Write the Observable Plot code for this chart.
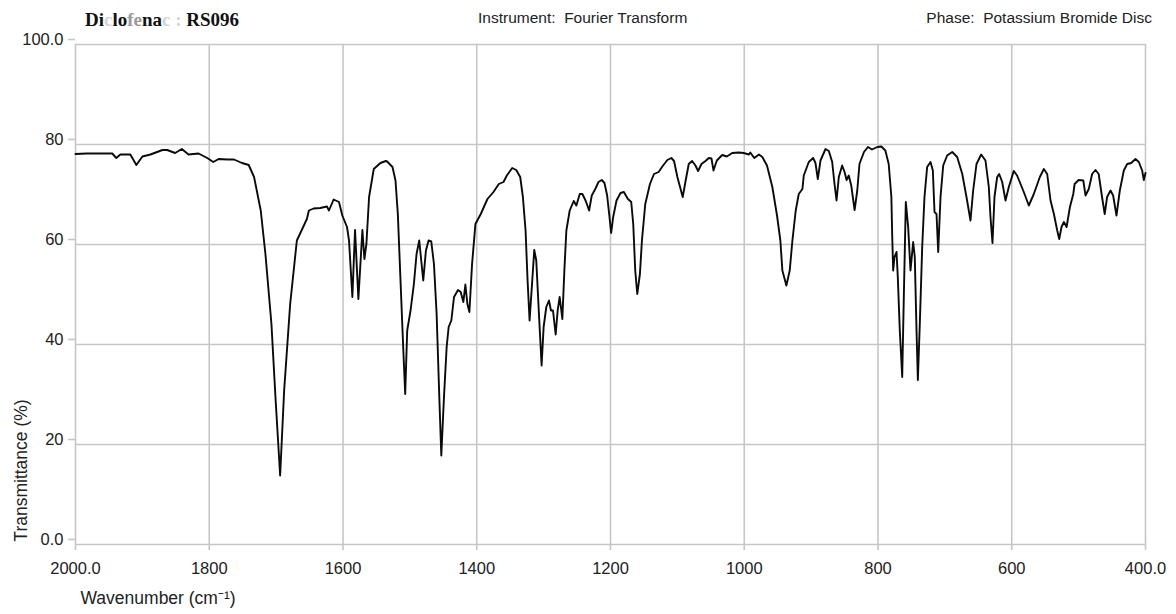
<!DOCTYPE html>
<html>
<head>
<meta charset="utf-8">
<script src="https://cdn.jsdelivr.net/npm/d3@7"></script>
<script src="https://cdn.jsdelivr.net/npm/@observablehq/plot@0.6"></script>
<style>
  html, body { margin: 0; padding: 0; background: #fff; }
  #header { display: block; }
  #chart svg { display: block; }
</style>
</head>
<body>
<svg id="header" width="1176" height="30" xmlns="http://www.w3.org/2000/svg">
  <text x="85" y="26" font-family="Liberation Serif, Times New Roman, serif" font-weight="bold" font-size="19" fill="#111">Di<tspan fill="#d4d4d4">c</tspan>lo<tspan fill="#9a9a9a">fe</tspan>na<tspan fill="#d4d4d4">c :</tspan> RS096</text>
  <text x="478" y="23" font-family="Liberation Sans, Arial, sans-serif" font-size="15.5" fill="#222" xml:space="preserve">Instrument:  Fourier Transform</text>
  <text x="1152" y="23" text-anchor="end" font-family="Liberation Sans, Arial, sans-serif" font-size="15.5" fill="#222" xml:space="preserve">Phase:  Potassium Bromide Disc</text>
</svg>
<div id="chart"></div>
<script>
// Wavenumber (cm-1) and transmittance (%)
const wavenumber = [
  2000, 1983, 1945, 1939, 1933, 1918, 1909, 1900, 1888, 1870, 1863, 1851, 1841, 1831, 1816,
  1803, 1794, 1786, 1773, 1763, 1751, 1741, 1733, 1723, 1716, 1707, 1701, 1694, 1688, 1679,
  1669, 1654, 1651, 1644, 1634, 1624, 1621, 1614, 1606, 1601, 1594, 1591, 1586, 1582, 1577,
  1571, 1568, 1565, 1561, 1554, 1544, 1536, 1534, 1526, 1521.5, 1518, 1514, 1510, 1507, 1504,
  1499, 1494, 1490, 1486, 1483, 1480, 1476, 1472, 1468, 1464, 1460, 1456, 1453, 1449, 1445,
  1442, 1438, 1434, 1428, 1424, 1420, 1417, 1414, 1411, 1407, 1402, 1394, 1384, 1375, 1367,
  1360, 1355, 1347, 1341, 1335, 1331, 1327, 1324, 1321, 1317, 1314, 1311, 1307, 1303, 1300,
  1296, 1292, 1289, 1286, 1282, 1279, 1276, 1272, 1269, 1266, 1261, 1255, 1251, 1246, 1242,
  1237, 1232, 1228, 1222, 1218, 1213, 1209, 1205, 1202, 1199, 1196, 1191, 1185, 1180, 1174,
  1169, 1166, 1163, 1160, 1156, 1153, 1148, 1141, 1135, 1128, 1123, 1115, 1109, 1105, 1100,
  1096, 1092, 1088, 1083, 1078, 1073, 1069, 1064, 1058, 1053, 1049, 1046, 1041, 1033, 1026,
  1018, 1008, 1001, 993, 991, 985, 978, 973, 966, 958, 951, 946, 943, 937, 932,
  928, 923, 918.5, 913, 911, 903.5, 897, 893.5, 890, 886, 878.5, 873.5, 868.5, 865, 862,
  858.6, 853.6, 850, 847, 843.7, 840, 835, 831, 827.7, 821, 815, 809, 801, 795, 789,
  784, 780, 778.7, 777.3, 775.3, 772.3, 770.4, 767.4, 763.8, 761.4, 758.4, 754.9, 751.4, 747.4, 745,
  742.4, 740.4, 737.5, 733.9, 730.5, 726.5, 721.5, 718, 715.5, 712.5, 710, 706.5, 702.5, 696.6, 689,
  681.6, 674, 667.7, 661.7, 657.7, 652.7, 645.7, 639.3, 634.3, 631.8, 628.8, 625.8, 621.8, 618.8, 614.3,
  609.3, 604.4, 597, 592, 582, 574.5, 567, 558, 552, 547, 542, 537, 532, 529, 525.6,
  522, 518, 513, 508, 506, 500, 493, 489.7, 484.8, 479.8, 474.8, 470, 465, 461, 457.4,
  452.3, 448.4, 443.4, 438.4, 432.4, 427.4, 421.4, 415, 410, 405, 402.5, 400
];
const transmittance = [
  78.1, 78.2, 78.2, 77.3, 78.0, 78.0, 75.9, 77.6, 78.0, 78.9, 78.9, 78.3, 79.1, 78.0, 78.2,
  77.3, 76.5, 77.1, 77.0, 77.0, 76.3, 75.9, 73.5, 66.8, 58.1, 44.1, 29.5, 13.8, 30.8, 48.1,
  60.8, 65.1, 66.8, 67.2, 67.3, 67.6, 66.8, 69.0, 68.5, 65.8, 63.5, 60.8, 49.5, 62.9, 49.1,
  62.9, 57.1, 60.1, 69.5, 75.1, 76.3, 76.7, 76.6, 75.5, 72.8, 66.1, 52.8, 39.5, 30.1, 42.8,
  46.8, 52.1, 58.1, 60.8, 56.8, 52.8, 58.8, 60.8, 60.6, 56.1, 46.1, 29.5, 17.8, 29.5, 39.5,
  43.5, 44.8, 49.5, 50.9, 50.5, 48.5, 52.0, 48.1, 46.5, 56.1, 64.1, 66.1, 69.1, 70.5, 72.1,
  72.5, 73.8, 75.3, 74.9, 73.5, 69.5, 62.8, 52.8, 44.8, 52.8, 58.9, 56.8, 46.1, 35.8, 43.5,
  47.5, 48.8, 46.8, 46.8, 42.0, 46.8, 49.5, 45.1, 54.8, 62.8, 66.8, 68.7, 67.8, 70.1, 70.1,
  68.7, 66.8, 69.8, 71.3, 72.5, 72.9, 72.3, 69.8, 66.1, 62.3, 65.5, 68.8, 70.3, 70.5, 69.1,
  68.5, 64.1, 54.8, 50.1, 54.1, 60.8, 68.1, 72.1, 74.1, 74.5, 75.5, 76.9, 77.3, 76.7, 73.5,
  71.5, 69.5, 72.5, 76.1, 76.7, 75.8, 74.7, 76.1, 76.7, 77.3, 77.2, 74.8, 76.8, 77.9, 77.6,
  78.3, 78.4, 78.3, 78.0, 78.4, 77.3, 78.0, 77.5, 75.8, 71.5, 65.8, 60.8, 54.8, 51.8, 54.8,
  60.8, 66.8, 70.1, 71.1, 73.8, 76.5, 77.3, 76.3, 73.1, 76.8, 79.1, 78.7, 76.5, 72.1, 68.8,
  73.5, 75.8, 74.5, 72.9, 73.8, 71.8, 66.9, 70.8, 76.1, 78.5, 79.5, 79.0, 79.5, 79.6, 78.8,
  76.1, 69.5, 61.5, 54.8, 57.5, 58.5, 53.5, 42.8, 33.5, 49.5, 68.5, 63.5, 54.8, 60.5, 57.5,
  42.8, 32.9, 44.1, 59.5, 69.5, 75.5, 76.5, 74.8, 66.5, 66.1, 58.5, 69.5, 75.8, 77.8, 78.5,
  77.5, 74.1, 69.5, 64.8, 70.8, 76.1, 78.0, 76.8, 71.5, 65.5, 60.3, 69.5, 73.5, 74.1, 72.5,
  68.8, 71.5, 74.7, 73.8, 70.5, 67.8, 70.1, 73.5, 75.1, 74.1, 68.8, 66.1, 62.8, 61.1, 63.5,
  64.5, 63.5, 67.5, 70.1, 72.1, 72.9, 72.8, 69.8, 71.1, 74.1, 74.9, 74.1, 69.5, 66.1, 69.5,
  70.8, 69.8, 65.8, 70.8, 74.8, 76.1, 76.3, 77.1, 76.5, 74.8, 72.9, 74.3
];
const xTicks = [2000, 1800, 1600, 1400, 1200, 1000, 800, 600, 400];
const xTickLabels = ["2000.0", "1800", "1600", "1400", "1200", "1000", "800", "600", "400.0"];
const yTicks = [0, 20, 40, 60, 80, 100];
const yTickLabels = ["0.0", "20", "40", "60", "80", "100.0"];
const xLabel = "Wavenumber (cm\u207B\u00B9)";
const yLabel = "Transmittance (%)";

const spectrum = wavenumber.map((w, i) => ({w, t: transmittance[i]}));
const gridColor = "#c6c6c6";

const chart = Plot.plot({
  width: 1176,
  height: 584,
  marginTop: 14,
  marginBottom: 70,
  marginLeft: 75,
  marginRight: 31,
  style: {fontFamily: "Liberation Sans, Arial, sans-serif", fontSize: "16px", background: "#fff", color: "#222"},
  x: {domain: [2000, 400]},
  y: {domain: [0, 100]},
  marks: [
    Plot.gridX(xTicks, {stroke: gridColor, strokeOpacity: 1, strokeWidth: 1.6}),
    Plot.gridY(yTicks, {stroke: gridColor, strokeOpacity: 1, strokeWidth: 1.6}),
    Plot.axisX(xTicks, {tickSize: 6, tickPadding: 12, stroke: gridColor, strokeWidth: 1.6, strokeOpacity: 1,
      fill: "#222", fontSize: 16.5, label: null,
      tickFormat: d => xTickLabels[xTicks.indexOf(d)]}),
    Plot.axisY(yTicks, {tickSize: 7, tickPadding: 5, stroke: gridColor, strokeWidth: 1.6, strokeOpacity: 1,
      fill: "#222", fontSize: 16.5, label: null, dy: -5,
      tickFormat: d => yTickLabels[yTicks.indexOf(d)]}),
    Plot.line(spectrum, {x: "w", y: "t", stroke: "#0a0a0a", strokeWidth: 1.9, curve: "linear", strokeLinejoin: "round"}),
    Plot.text([xLabel], {frameAnchor: "bottom-left", text: d => d, textAnchor: "start", lineAnchor: "bottom",
      dx: 5, dy: 59, fontSize: 17.5, fill: "#222"}),
    Plot.text([yLabel], {frameAnchor: "left", text: d => d, rotate: -90, textAnchor: "middle", lineAnchor: "middle",
      dx: -54, dy: 176, fontSize: 17.5, fill: "#222"})
  ]
});
document.getElementById("chart").appendChild(chart);
</script>
</body>
</html>
